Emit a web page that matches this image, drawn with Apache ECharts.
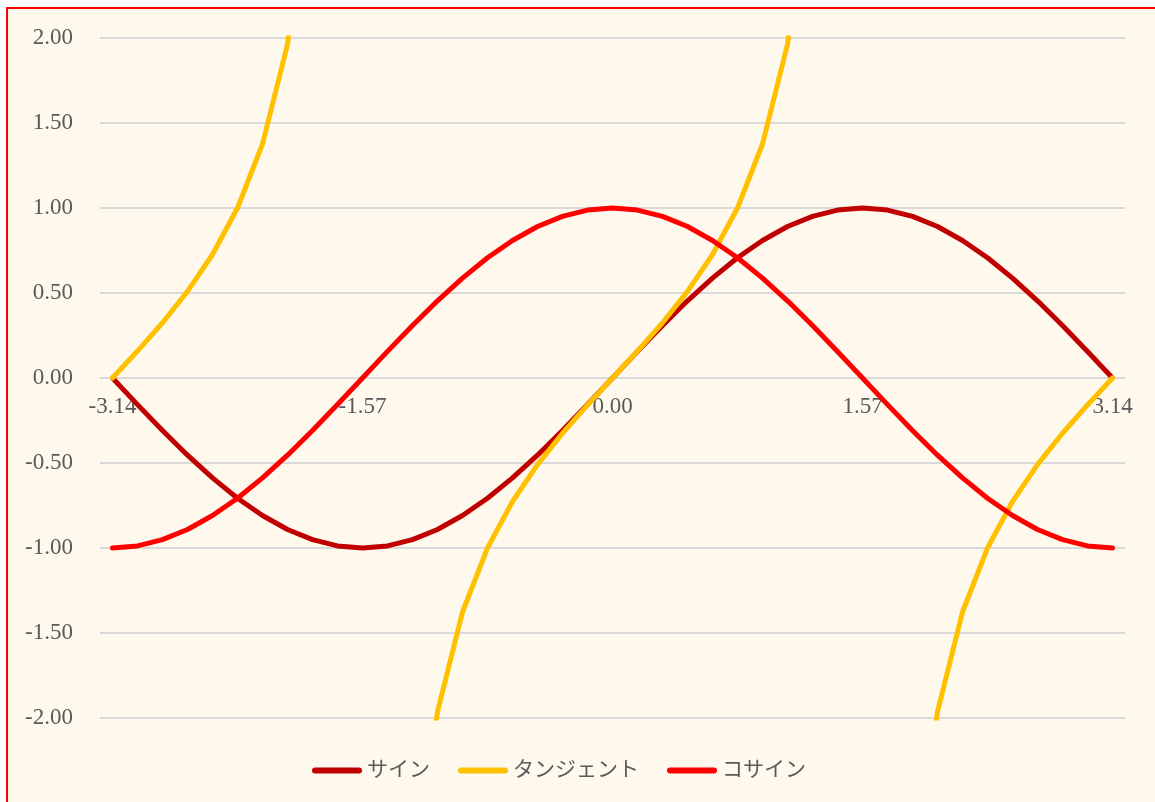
<!DOCTYPE html>
<html>
<head>
<meta charset="utf-8">
<title>sin cos tan</title>
<script src="https://cdn.jsdelivr.net/npm/echarts@6/dist/echarts.min.js"></script>
<style>
  html, body { margin: 0; padding: 0; background: #ffffff; }
  #chart { position: absolute; left: 0; top: 0; width: 1155px; height: 802px; }
  .mask { position: absolute; background: #ffffff; pointer-events: none; }
  #frame { position: absolute; left: 6px; top: 7px; width: 1300px; height: 900px;
           border-top: 2px solid #ff0000; border-left: 2px solid #ff0000; pointer-events: none; }
</style>
</head>
<body>
<div id="chart"></div>
<div class="mask" style="left:0;top:0;width:1155px;height:7px;"></div>
<div class="mask" style="left:0;top:0;width:6px;height:802px;"></div>
<div id="frame"></div>
<script>
// x = -π .. π, 刻み π/20
var categories = ['-3.14','-2.98','-2.83','-2.67','-2.51','-2.36','-2.20','-2.04','-1.88','-1.73',
                  '-1.57','-1.41','-1.26','-1.10','-0.94','-0.79','-0.63','-0.47','-0.31','-0.16',
                  '0.00','0.16','0.31','0.47','0.63','0.79','0.94','1.10','1.26','1.41',
                  '1.57','1.73','1.88','2.04','2.20','2.36','2.51','2.67','2.83','2.98','3.14'];

var sineValues = [0.00,-0.1564,-0.3090,-0.4540,-0.5878,-0.7071,-0.8090,-0.8910,-0.9511,-0.9877,
                  -1.00,-0.9877,-0.9511,-0.8910,-0.8090,-0.7071,-0.5878,-0.4540,-0.3090,-0.1564,
                  0.00,0.1564,0.3090,0.4540,0.5878,0.7071,0.8090,0.8910,0.9511,0.9877,
                  1.00,0.9877,0.9511,0.8910,0.8090,0.7071,0.5878,0.4540,0.3090,0.1564,0.00];

var tangentValues = [0.00,0.1584,0.3249,0.5095,0.7265,1.00,1.3764,1.9626,3.0777,6.3138,
                     null,-6.3138,-3.0777,-1.9626,-1.3764,-1.00,-0.7265,-0.5095,-0.3249,-0.1584,
                     0.00,0.1584,0.3249,0.5095,0.7265,1.00,1.3764,1.9626,3.0777,6.3138,
                     null,-6.3138,-3.0777,-1.9626,-1.3764,-1.00,-0.7265,-0.5095,-0.3249,-0.1584,0.00];

var cosineValues = [-1.00,-0.9877,-0.9511,-0.8910,-0.8090,-0.7071,-0.5878,-0.4540,-0.3090,-0.1564,
                    0.00,0.1564,0.3090,0.4540,0.5878,0.7071,0.8090,0.8910,0.9511,0.9877,
                    1.00,0.9877,0.9511,0.8910,0.8090,0.7071,0.5878,0.4540,0.3090,0.1564,
                    0.00,-0.1564,-0.3090,-0.4540,-0.5878,-0.7071,-0.8090,-0.8910,-0.9511,-0.9877,-1.00];

var yTicks = { min: -2, max: 2, interval: 0.5 };

var textFont = "'Liberation Serif', 'Noto Sans CJK JP', serif";
var textColor = '#595959';
var pill = 'path://M3,0 L47,0 A3,3 0 0 1 47,6 L3,6 A3,3 0 0 1 3,0 Z';
var gridTop = 38, gridBottom = 84, chartHeight = 802;

function lineSeries(name, values, color) {
	return {
		name: name,
		type: 'line',
		data: values,
		showSymbol: false,
		symbol: 'none',
		connectNulls: false,
		clip: true,
		lineStyle: { color: color, width: 5, cap: 'round', join: 'round' },
		itemStyle: { color: color }
	};
}

// x軸ラベルは y=0 の線のすぐ下に置く
var plotHeight = chartHeight - gridTop - gridBottom;
var zeroOffset = -plotHeight * (0 - yTicks.min) / (yTicks.max - yTicks.min);

var chart = echarts.init(document.getElementById('chart'), null, { renderer: 'canvas' });
chart.setOption({
	animation: false,
	backgroundColor: '#fef9ec',
	textStyle: { fontFamily: textFont },
	grid: { left: 100, right: 30, top: gridTop, bottom: gridBottom, containLabel: false },
	legend: {
		top: 755,
		left: 307,
		itemWidth: 50,
		itemHeight: 6,
		itemGap: 28,
		itemTextGap: 5,
		icon: pill,
		textStyle: { color: textColor, fontSize: 21, fontFamily: textFont },
		data: ['サイン', 'タンジェント', 'コサイン']
	},
	xAxis: {
		type: 'category',
		data: categories,
		boundaryGap: true,
		position: 'bottom',
		offset: zeroOffset,
		axisLine: { show: false, onZero: false },
		axisTick: { show: false },
		axisLabel: { interval: 9, color: textColor, fontSize: 23, margin: 17, fontFamily: textFont },
		splitLine: { show: false }
	},
	yAxis: {
		type: 'value',
		min: yTicks.min,
		max: yTicks.max,
		interval: yTicks.interval,
		axisLine: { show: false },
		axisTick: { show: false },
		axisLabel: {
			color: textColor, fontSize: 23, margin: 27, fontFamily: textFont,
			formatter: function (v) { return v.toFixed(2); }
		},
		splitLine: { show: true, lineStyle: { color: '#d9d9d9', width: 2 } }
	},
	series: [
		lineSeries('サイン', sineValues, '#c00000'),
		lineSeries('タンジェント', tangentValues, '#ffc000'),
		lineSeries('コサイン', cosineValues, '#ff0000')
	]
});
</script>
</body>
</html>
